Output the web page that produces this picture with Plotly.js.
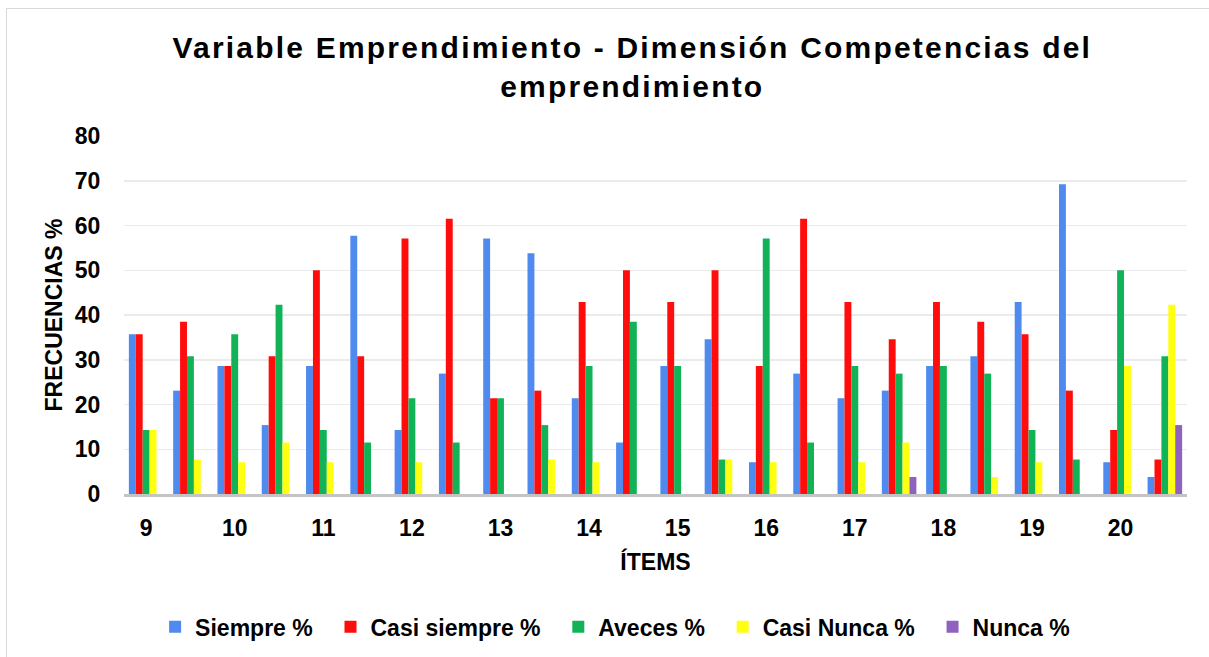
<!DOCTYPE html>
<html>
<head>
<meta charset="utf-8">
<script src="https://cdn.plot.ly/plotly-3.0.1.min.js"></script>
<style>
html,body{margin:0;padding:0;background:#fff;}
#frame{position:absolute;left:6px;top:8px;width:1220px;height:680px;border:1.5px solid #d9d9d9;box-sizing:border-box;}
#chart{position:absolute;left:0;top:0;width:1209px;height:657px;}
#chart .gtitle{letter-spacing:2.2px;}
</style>
</head>
<body>
<div id="frame"></div>
<div id="chart"></div>
<script>
// Item labels shown on the axis (each label spans two response groups)
var itemLabels = ['9','10','11','12','13','14','15','16','17','18','19','20'];
// 24 response groups in order
var groups = [];
for (var i = 0; i < 24; i++) groups.push(i);

var siempre     = [35.7,23.1,28.6,15.4,28.6,57.7,14.3,26.9,57.1,53.8,21.4,11.5,28.6,34.6,7.1,26.9,21.4,23.1,28.6,30.8,42.9,69.2,7.1,3.8];
var casiSiempre = [35.7,38.5,28.6,30.8,50.0,30.8,57.1,61.5,21.4,23.1,42.9,50.0,42.9,50.0,28.6,61.5,42.9,34.6,42.9,38.5,35.7,23.1,14.3,7.7];
var aveces      = [14.3,30.8,35.7,42.3,14.3,11.5,21.4,11.5,21.4,15.4,28.6,38.5,28.6,7.7,57.1,11.5,28.6,26.9,28.6,26.9,14.3,7.7,50.0,30.8];
var casiNunca   = [14.3,7.7,7.1,11.5,7.1,0,7.1,0,0,7.7,7.1,0,0,7.7,7.1,0,7.1,11.5,0,3.8,7.1,0,28.6,42.3];
var nunca       = [0,0,0,0,0,0,0,0,0,0,0,0,0,0,0,0,0,3.8,0,0,0,0,0,15.4];

var seriesNames = ['Siempre %','Casi siempre %','Aveces %','Casi Nunca %','Nunca %'];
var seriesData = [siempre, casiSiempre, aveces, casiNunca, nunca];
var colors = ['#4F8BEF','#FF0D0D','#12B356','#FFFF10','#8E62BE'];

var tickVals = [];
for (var k = 0; k < itemLabels.length; k++) tickVals.push(groups[k*2]);

var FONT = 'Liberation Sans, Arial, sans-serif';
var PAD = '\u00a0\u00a0';

var traces = seriesData.map(function(d, i){
  return {
    type: 'bar',
    x: groups,
    y: d,
    name: seriesNames[i] + (i < seriesNames.length - 1 ? PAD : ''),
    marker: {color: colors[i], line: {width: 0}},
    hoverinfo: 'skip'
  };
});

var layout = {
  width: 1209, height: 657,
  paper_bgcolor: 'rgba(0,0,0,0)',
  plot_bgcolor: 'rgba(0,0,0,0)',
  margin: {l: 124, r: 22, t: 136, b: 163, autoexpand: false},
  barmode: 'group',
  bargap: 0.22,
  bargroupgap: 0,
  title: {
    text: 'Variable Emprendimiento - Dimensión Competencias del<br>emprendimiento',
    font: {family: FONT, size: 30, color: '#000', weight: 'bold'},
    x: 0.523, xanchor: 'center',
    yref: 'container',
    y: 0.911, yanchor: 'middle'
  },
  xaxis: {
    type: 'linear',
    range: [-0.5, 23.5],
    tickvals: tickVals,
    ticktext: itemLabels,
    ticks: 'outside', ticklen: 12, tickcolor: 'rgba(0,0,0,0)',
    tickfont: {family: FONT, size: 23, color: '#000', weight: 'bold'},
    showgrid: false,
    zeroline: false,
    showline: true, linecolor: '#C4C4C4', linewidth: 2.5,
    title: {text: 'ÍTEMS', font: {family: FONT, size: 23, color: '#000', weight: 'bold'}, standoff: 14},
    automargin: false
  },
  yaxis: {
    range: [0, 80],
    dtick: 10,
    ticks: 'outside', ticklen: 18, tickcolor: 'rgba(0,0,0,0)',
    tickfont: {family: FONT, size: 23, color: '#000', weight: 'bold'},
    showgrid: true, gridcolor: '#EBEBEB', gridwidth: 1.5,
    zeroline: false,
    showline: false,
    title: {text: 'FRECUENCIAS %', font: {family: FONT, size: 23, color: '#000', weight: 'bold'}, standoff: 5},
    automargin: false
  },
  legend: {
    orientation: 'h',
    x: 0.462, xanchor: 'center',
    yref: 'container',
    y: 0.046, yanchor: 'middle',
    font: {family: FONT, size: 23, color: '#000', weight: 'bold'},
    itemwidth: 30,
    traceorder: 'normal'
  },
  showlegend: true
};

Plotly.newPlot('chart', traces, layout, {displayModeBar: false, staticPlot: true});
</script>
</body>
</html>
